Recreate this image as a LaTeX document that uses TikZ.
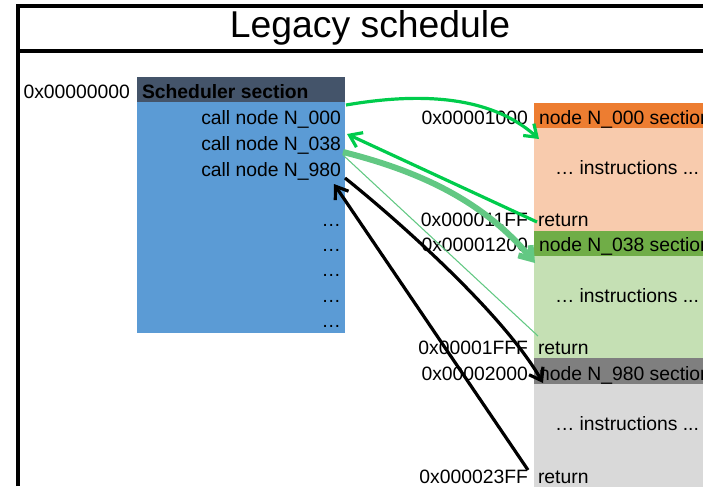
\documentclass[tikz,border=0pt]{standalone}
\usepackage{fontspec}
\setmainfont{Liberation Sans}
\usetikzlibrary{arrows.meta,calc}

\definecolor{schedhead}{HTML}{44546A}
\definecolor{schedbody}{HTML}{5B9BD5}
\definecolor{orhead}{HTML}{ED7D31}
\definecolor{orbody}{HTML}{F8CBAD}
\definecolor{grhead}{HTML}{70AD47}
\definecolor{grbody}{HTML}{C5E0B4}
\definecolor{gyhead}{HTML}{7F7F7F}
\definecolor{gybody}{HTML}{D9D9D9}
\definecolor{callgreen}{HTML}{00CC4C}
\definecolor{softgreen}{HTML}{62C883}

\begin{document}
\begin{tikzpicture}[x=0.75pt,y=-0.75pt,
  txt/.style={font=\fontsize{14.5}{17}\selectfont, inner sep=0pt, outer sep=0pt},
  lbl/.style={txt, anchor=base west},
  rlbl/.style={txt, anchor=base east},
  tip/.style={-{Straight Barb[length=8.5pt,width=12pt]}},
  callarrow/.style={tip, draw=callgreen, line width=2.4pt},
  softarrow/.style={tip, draw=softgreen, line width=4.5pt},
  thinlink/.style={draw=softgreen, line width=0.8pt},
  jumparrow/.style={tip, draw=black, line width=2.4pt},
  frame/.style={draw=black, line width=2.4pt}]

\useasboundingbox (0,0) rectangle (703,486);
\clip (0,0) rectangle (703,486);

% title frame
\draw[frame] (18,486) -- (18,6) -- (720,6);
\draw[frame] (18,51) -- (720,51);
\node[inner sep=0pt, font=\fontsize{28}{31}\selectfont] (title) at (370,28) {Legacy schedule};

% scheduler section
\fill[schedhead] (137,77) rectangle (345,102);
\fill[schedbody] (137,102) rectangle (345,333);
\node[lbl, font=\fontsize{14.5}{17}\selectfont\bfseries] (schedname) at (142,98) {Scheduler section};
\node[rlbl] (a0) at (130,98) {0x00000000};
\node[rlbl] (c000) at (341,124) {call node N\_000};
\node[rlbl] (c038) at (341,150) {call node N\_038};
\node[rlbl] (c980) at (341,176) {call node N\_980};
\node[rlbl] (d1) at (341,226) {…};
\node[rlbl] (d2) at (341,251) {…};
\node[rlbl] (d3) at (341,276) {…};
\node[rlbl] (d4) at (341,302) {…};
\node[rlbl] (d5) at (341,327) {…};

% node N_000 section
\fill[orhead] (534,103) rectangle (720,128);
\fill[orbody] (534,128) rectangle (720,231);
\node[rlbl] (a1000) at (528,124) {0x00001000};
\node[lbl] (n000) at (539,124) {node N\_000 section};
\node[lbl] (i000) at (555,174) {… instructions ...};
\node[rlbl] (a11ff) at (528,226) {0x000011FF};
\node[lbl] (r000) at (538,226) {return};

% node N_038 section
\fill[grhead] (534,231) rectangle (720,256);
\fill[grbody] (534,256) rectangle (720,358);
\node[rlbl] (a1200) at (528,251) {0x00001200};
\node[lbl] (n038) at (539,251) {node N\_038 section};
\node[lbl] (i038) at (555,302) {… instructions ...};
\node[rlbl] (a1fff) at (528,354) {0x00001FFF};
\node[lbl] (r038) at (538,354) {return};

% node N_980 section
\fill[gyhead] (534,358) rectangle (720,384);
\fill[gybody] (534,384) rectangle (720,490);
\node[rlbl] (a2000) at (528,380) {0x00002000};
\node[lbl] (n980) at (539,380) {node N\_980 section};
\node[lbl] (i980) at (555,430) {… instructions ...};
\node[rlbl] (a23ff) at (528,483) {0x000023FF};
\node[lbl] (r980) at (538,483) {return};

% calls and returns
\draw[callarrow] ($(c000.base east)+(5,-19)$) .. controls +(70,-12) and +(-50,-45) .. ($(n000.base west)+(0,15)$);
\draw[callarrow] ($(r000.base west)+(-1,-4)$) -- ($(c038.base east)+(6,-16)$);
\draw[softarrow] ($(c038.base east)+(2,2)$) .. controls +(80,20) and +(-50,-60) .. ($(n038.base west)+(-4,12)$);
\draw[thinlink] ($(c038.base east)+(2,5)$) -- ($(r038.base west)+(0,-18)$);
\draw[jumparrow] ($(c980.base east)+(4,2)$) .. controls +(50,40) and +(-40,-70) .. ($(n980.base west)+(4,3)$);
\draw[jumparrow] ($(r980.base west)+(-10,-13)$) -- ($(c980.base east)+(-7,8)$);
\end{tikzpicture}
\end{document}
